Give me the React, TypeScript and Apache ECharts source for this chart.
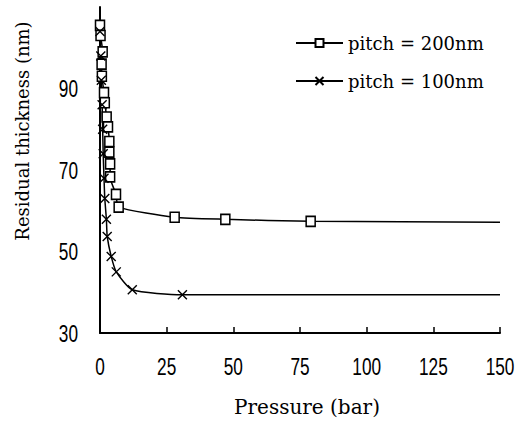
import React, { useEffect, useRef } from "react";
import * as echarts from "echarts";

const xTicks = [0, 25, 50, 75, 100, 125, 150];
const yTickLabels = [30, 50, 70, 90];

const pitch200X = [0, 0.2, 1, 0.6, 0.7, 1.5, 1.8, 2.5, 3, 3.5, 3.5, 3.8, 3.8, 6, 7, 28, 47, 79, 150];
const pitch200Y = [105.5, 103, 99, 96, 93, 89, 86.5, 83, 80.6, 77, 74.4, 71.5, 68.3, 64, 60.9, 58.4, 57.9, 57.4, 57.2];

const pitch100X = [0, 0.3, 0.5, 0.8, 1, 1.2, 1.5, 1.8, 2.4, 2.7, 4.2, 6.1, 12.1, 30.9, 150];
const pitch100Y = [104, 98, 92, 86, 80, 74, 68, 63, 57.9, 53.7, 48.8, 45, 40.6, 39.4, 39.4];

const seriesNames = ["pitch = 200nm", "pitch = 100nm"];

function toData(xs: number[], ys: number[]) {
  return xs.map((x, i) =>
    i === xs.length - 1 ? { value: [x, ys[i]], symbol: "none" } : { value: [x, ys[i]] }
  );
}

export default function App() {
  const ref = useRef<HTMLDivElement>(null);
  useEffect(() => {
    if (!ref.current) return;
    const chart = echarts.init(ref.current, undefined, { renderer: "svg" });
    const serif = "DejaVu Serif";
    const sans = "'Liberation Sans', Arial, sans-serif";
    const Y_MIN = 30;
    chart.setOption({
      animation: false,
      backgroundColor: "#fff",
      grid: { left: 100, right: 28, top: 7, bottom: 91 },
      legend: {
        orient: "vertical",
        left: 295,
        top: 33,
        padding: 0,
        itemWidth: 47,
        itemHeight: 10,
        itemGap: 18,
        textStyle: { fontFamily: serif, fontSize: 18, color: "#000", lineHeight: 20 },
        data: seriesNames,
      },
      xAxis: {
        type: "value",
        min: 0,
        max: 150,
        interval: 25,
        axisLine: { lineStyle: { color: "#000", width: 2 } },
        axisTick: { show: true, inside: true, length: 6, lineStyle: { color: "#000", width: 1.5 } },
        splitLine: { show: false },
        axisLabel: { show: false },
      },
      yAxis: {
        type: "value",
        min: Y_MIN,
        max: 110,
        interval: 10,
        axisLine: { show: true, lineStyle: { color: "#000", width: 2 } },
        axisTick: { show: false },
        splitLine: { show: false },
        axisLabel: { show: false },
      },
      series: [
        {
          name: seriesNames[0],
          type: "line",
          smooth: 0.2,
          data: toData(pitch200X, pitch200Y),
          symbol: "rect",
          symbolSize: [9, 10],
          lineStyle: { color: "#000", width: 1.5 },
          itemStyle: { color: "#fff", borderColor: "#000", borderWidth: 1.6 },
        },
        {
          name: seriesNames[1],
          type: "line",
          smooth: 0.2,
          data: toData(pitch100X, pitch100Y),
          symbol: "path://M0,0L10,10M10,0L0,10",
          symbolSize: 9,
          lineStyle: { color: "#000", width: 1.5 },
          itemStyle: { color: "#000", borderColor: "#000", borderWidth: 1.4 },
        },
      ],
    });

    // Narrow tick labels placed through the axes' own scales
    const labelStyle = { fontFamily: sans, fontSize: 23, fill: "#000" };
    const graphics: any[] = [];
    xTicks.forEach((v) => {
      const p = chart.convertToPixel({ gridIndex: 0 }, [v, Y_MIN]) as number[];
      graphics.push({
        type: "text",
        x: p[0],
        y: p[1] + 34,
        scaleX: 0.75,
        style: { ...labelStyle, text: String(v), align: "center", verticalAlign: "middle" },
      });
    });
    yTickLabels.forEach((v) => {
      const p = chart.convertToPixel({ gridIndex: 0 }, [0, v]) as number[];
      graphics.push({
        type: "text",
        x: p[0] - 22,
        y: p[1] + 1,
        scaleX: 0.75,
        style: { ...labelStyle, text: String(v), align: "right", verticalAlign: "middle" },
      });
    });
    graphics.push(
      {
        type: "text",
        x: 22,
        y: 131,
        rotation: Math.PI / 2,
        style: {
          text: "Residual thickness (nm)",
          fontFamily: serif,
          fontSize: 18,
          fill: "#000",
          align: "center",
          verticalAlign: "middle",
        },
      },
      {
        type: "text",
        x: 307,
        y: 407,
        style: {
          text: "Pressure (bar)",
          fontFamily: serif,
          fontSize: 20,
          fill: "#000",
          align: "center",
          verticalAlign: "middle",
        },
      }
    );
    chart.setOption({ graphic: graphics });
    return () => chart.dispose();
  }, []);
  return <div ref={ref} style={{ width: 528, height: 424, position: "absolute", left: 0, top: 0 }} />;
}
